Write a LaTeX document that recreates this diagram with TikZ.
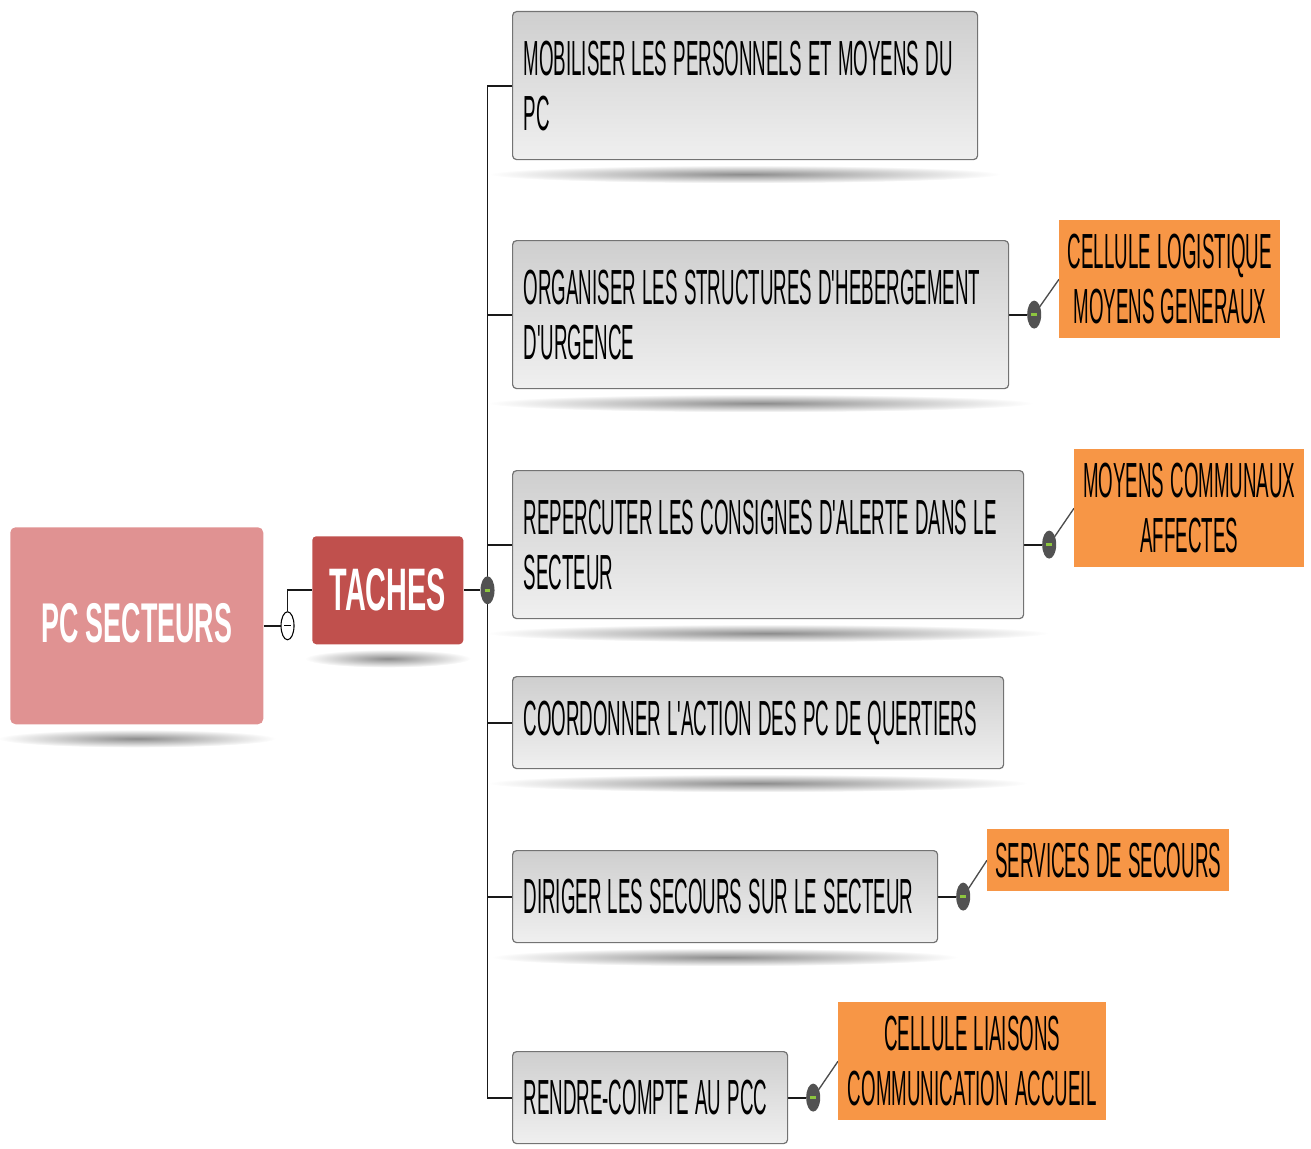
\documentclass[tikz,border=0pt]{standalone}
\usepackage{fontspec}
\newfontfamily\narrowfont{Liberation Sans}[FakeStretch=0.38, WordSpace=1.2]
\newfontfamily\headfont{Liberation Sans}[FakeStretch=0.48]
\usetikzlibrary{shapes,calc,positioning,backgrounds}
\definecolor{rootred}{HTML}{E09292}
\definecolor{tacred}{HTML}{C0504D}
\definecolor{cellorange}{HTML}{F79646}
\definecolor{knobgreen}{HTML}{8DC63F}
\tikzset{
  root/.style={anchor=north west, rounded corners=4pt, fill=rootred, text=white,
    font=\headfont\bfseries\fontsize{42}{46}\selectfont, inner sep=0pt},
  tac/.style={anchor=north west, rounded corners=3pt, fill=tacred, text=white,
    font=\headfont\bfseries\fontsize{45}{50}\selectfont, inner sep=0pt},
  task/.style={anchor=north west, rounded corners=3pt, draw=black!55, line width=0.9pt,
    top color=gray!38, bottom color=gray!12, align=left, text width=#1,
    inner xsep=8.25pt, inner ysep=0pt, font=\narrowfont\fontsize{37}{41.25}\selectfont,
    execute at begin node={\spaceskip=\fontdimen2\font\relax}},
  cell/.style={anchor=north west, fill=cellorange, align=center, inner sep=0pt,
    font=\narrowfont\fontsize{37}{41.25}\selectfont},
  knob/.style={ellipse, fill=black!68, minimum width=10.5pt, minimum height=21pt, inner sep=0pt,
    path picture={\draw[knobgreen, line width=2pt] ([xshift=-2.2pt]path picture bounding box.center) -- ([xshift=2.2pt]path picture bounding box.center);}},
  fold/.style={ellipse, fill=white, draw=black, line width=0.8pt, minimum width=9.75pt, minimum height=21pt, inner sep=0pt,
    path picture={\draw[black, line width=1pt] ([xshift=-2.5pt]path picture bounding box.center) -- ([xshift=2.5pt]path picture bounding box.center);}},
  link/.style={draw=black!90, line width=1.4pt},
  sublink/.style={draw=black!70, line width=1pt},
  reflect/.style={inner color=gray!90, outer color=white}
}
\begin{document}
\begin{tikzpicture}[x=0.75pt, y=-0.75pt]
\useasboundingbox (0,0) rectangle (1311,1149);
\node[root, minimum width=189.75pt, minimum height=147.75pt] (pcs) at (10,527) {\raisebox{4pt}{PC SECTEURS}};
\node[tac, minimum width=113.25pt, minimum height=81pt] (tac) at (312,536) {TACHES};
\node[fold] (c0) at ([xshift=18pt]pcs.east) {};
\node[knob] (k0) at ([xshift=18pt]tac.east) {};

\node[task=332.25pt, minimum height=111pt] (t1) at (512,11) {MOBILISER LES PERSONNELS ET MOYENS DU\\PC};
\node[task=355.5pt, minimum height=111pt] (t2) at (512,240) {ORGANISER LES STRUCTURES D'HEBERGEMENT\\D'URGENCE};
\node[task=366.75pt, minimum height=111pt] (t3) at (512,470) {REPERCUTER LES CONSIGNES D'ALERTE DANS LE\\SECTEUR};
\node[task=351.75pt, minimum height=69pt] (t4) at (512,676) {COORDONNER L'ACTION DES PC DE QUERTIERS};
\node[task=302.25pt, minimum height=69pt] (t5) at (512,850) {DIRIGER LES SECOURS SUR LE SECTEUR};
\node[task=189.75pt, minimum height=69pt] (t6) at (512,1051) {RENDRE-COMPTE AU PCC};

\node[knob] (k2) at ([xshift=18.75pt]t2.east) {};
\node[knob] (k3) at ([xshift=18.75pt]t3.east) {};
\node[knob] (k5) at ([xshift=18.75pt]t5.east) {};
\node[knob] (k6) at ([xshift=18.75pt]t6.east) {};

\node[cell, minimum width=165.75pt, minimum height=88.5pt] (cell2) at (1059,220) {CELLULE LOGISTIQUE\\MOYENS GENERAUX};
\node[cell, minimum width=172.5pt, minimum height=88.5pt] (cell3) at (1074,449) {MOYENS COMMUNAUX\\AFFECTES};
\node[cell, minimum width=181.5pt, minimum height=46.5pt] (cell5) at (987,829) {SERVICES DE SECOURS};
\node[cell, minimum width=201pt, minimum height=88.5pt] (cell6) at (838,1002) {CELLULE LIAISONS\\COMMUNICATION ACCUEIL};

\begin{scope}[on background layer]
\foreach \n/\w in {pcs/253, tac/151, t1/465, t2/496, t3/511, t4/491, t5/425, t6/275}
  \shade[reflect] ([yshift=-10.5pt]\n.south) ellipse ({\w*0.55} and 9);
\draw[link] (pcs) -- (c0);
\draw[link] (c0) |- (tac);
\draw[link] (tac) -- (k0);
\foreach \t in {t1,t2,t3,t4,t5,t6}
  \draw[link] (k0.center) |- (\t.west);
\foreach \k in {2,3,5,6} {
  \draw[link] (t\k) -- (k\k);
  \draw[sublink] (k\k.center) -- (cell\k.west);
}
\end{scope}
\end{tikzpicture}
\end{document}
